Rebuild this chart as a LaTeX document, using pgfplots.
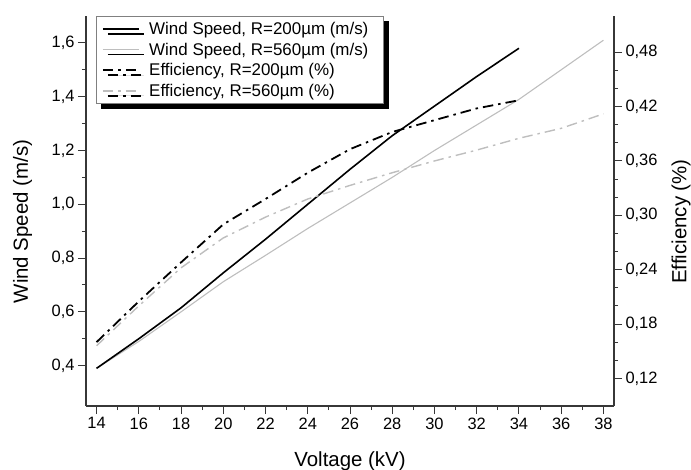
\documentclass[border=0pt]{standalone}
\usepackage{fontspec}
\setmainfont{Liberation Sans}
\usepackage{pgfplots}
\pgfplotsset{compat=1.18}
\usetikzlibrary{shadows}
\definecolor{axgray}{RGB}{55,55,55}
\definecolor{lgray}{RGB}{190,190,190}
\begin{document}
\begin{tikzpicture}
\pgfplotsset{
  common/.style={
    scale only axis, width=528bp, height=390bp,
    xmin=13.5, xmax=38.5,
    tick align=outside,
    major tick length=8bp, minor tick length=4bp,
    every tick/.style={axgray, line width=1bp},
    axis line style={-, axgray, line width=1.3bp},
    tick label style={font=\fontsize{16.5}{19}\selectfont},
    label style={font=\fontsize{20.5}{24}\selectfont},
    /pgf/number format/assume math mode=true,
    legend image code/.code={\draw[##1] (0bp,0bp) -- (36bp,0bp);},
  },
  w200/.style={black, line width=1.6bp},
  w560/.style={lgray, line width=1.1bp},
  e200/.style={black, line width=1.8bp, dash pattern=on 10.5bp off 5bp on 2.5bp off 5bp},
  e560/.style={lgray, line width=1.4bp, dash pattern=on 10.5bp off 5bp on 2.5bp off 5bp},
}
\begin{axis}[common,
  axis x line*=bottom, axis y line*=left,
  ymin=0.25, ymax=1.70,
  xtick={14,16,18,20,22,24,26,28,30,32,34,36,38}, minor x tick num=1,
  ytick={0.4,0.6,0.8,1.0,1.2,1.4,1.6}, minor y tick num=1,
  yticklabel style={/pgf/number format/.cd, use comma, fixed, fixed zerofill, precision=1},
  xlabel={Voltage (kV)}, ylabel={Wind Speed (m/s)},
  xlabel style={at={(axis description cs:0.5,-0.1564)}, anchor=base},
  ylabel style={at={(axis description cs:-0.1203,0.473)}, anchor=center},
]
\addplot[w560] coordinates {(14,0.39)(16,0.49)(18,0.60)(20,0.712)(22,0.81)(24,0.91)(26,1.005)(28,1.10)(30,1.20)(32,1.295)(34,1.39)(36,1.50)(38,1.61)};
\addplot[w200] coordinates {(14,0.39)(16,0.50)(18,0.615)(20,0.745)(22,0.87)(24,1.0)(26,1.13)(28,1.255)(30,1.365)(32,1.475)(34,1.58)};
\end{axis}
\begin{axis}[common,
  axis x line=none, axis y line*=right,
  ymin=0.0895, ymax=0.52,
  ytick={0.12,0.18,0.24,0.30,0.36,0.42,0.48}, minor y tick num=2,
  yticklabel style={/pgf/number format/.cd, use comma, fixed, fixed zerofill, precision=2},
  ylabel={Efficiency (\%)},
  ylabel style={at={(axis description cs:1.1269,0.473)}, anchor=center},
  legend cell align=left,
  legend style={at={(axis description cs:0.019,1)}, anchor=north west,
    draw=gray, line width=0.8bp, fill=white,
    general shadow={shadow xshift=5bp, shadow yshift=-5bp, fill=black, draw=black},
    font=\fontsize{17}{20}\selectfont,
    nodes={inner xsep=9.5bp},
    inner xsep=5.5bp, inner ysep=4bp, row sep=2.8bp},
]
\addlegendimage{w200}
\addlegendentry{Wind Speed, R=200µm (m/s)}
\addlegendimage{w560}
\addlegendentry{Wind Speed, R=560µm (m/s)}
\addplot[e560, forget plot] coordinates {(14,0.156)(16,0.20)(18,0.242)(20,0.275)(22,0.298)(24,0.318)(26,0.333)(28,0.347)(30,0.36)(32,0.372)(34,0.385)(36,0.396)(38,0.412)};
\addplot[e200] coordinates {(14,0.16)(16,0.205)(18,0.248)(20,0.29)(22,0.318)(24,0.347)(26,0.373)(28,0.392)(30,0.405)(32,0.418)(34,0.427)};
\addlegendentry{Efficiency, R=200µm (\%)}
\addlegendimage{e560}
\addlegendentry{Efficiency, R=560µm (\%)}
\end{axis}
\pgfresetboundingbox
\path ([shift={(-86bp,-64bp)}]current axis.south west) rectangle ++(691bp,470bp);
\end{tikzpicture}
\end{document}
